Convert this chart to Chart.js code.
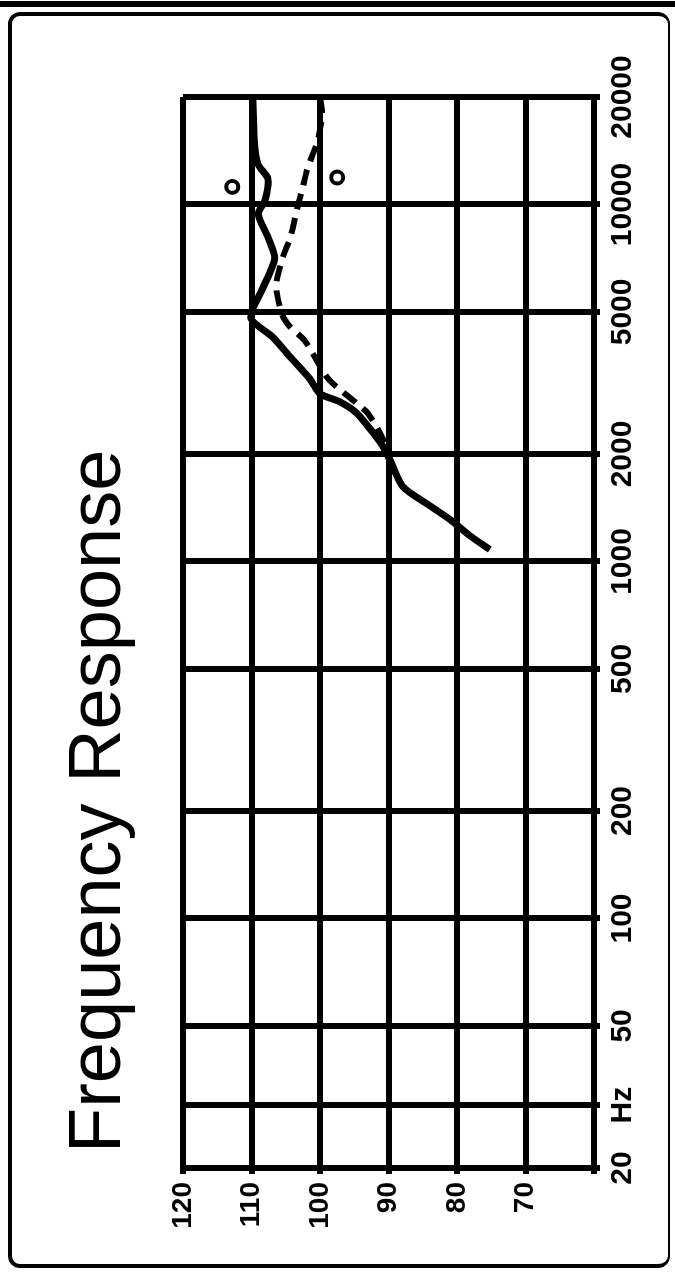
<!DOCTYPE html>
<html>
<head>
<meta charset="utf-8">
<script src="https://cdn.jsdelivr.net/npm/chart.js@4"></script>
<style>
  body { margin: 0; width: 675px; height: 1278px; overflow: hidden; position: relative; background: #fff; }
  #frame { position: absolute; left: 8px; top: 12px; width: 662px; height: 1256px; box-sizing: border-box;
           border: 4px solid #000; border-right-width: 2px; border-radius: 12px; }
  #edge { position: absolute; left: 0; top: 1px; width: 675px; height: 6px; background: #000; }
  #rot { position: absolute; left: 0; top: 0; width: 1278px; height: 675px;
         transform-origin: 0 0; transform: translate(0px, 1278px) rotate(-90deg); }
</style>
</head>
<body>
<div id="edge"></div>
<div id="frame"></div>
<div id="rot"><canvas id="chart" width="1278" height="675"></canvas></div>
<script>
const titleText = "Frequency Response";

const freqTicks = [20, 30, 50, 100, 200, 500, 1000, 2000, 5000, 10000, 20000];
const freqLabels = ["20", "Hz", "50", "100", "200", "500", "1000", "2000", "5000", "10000", "20000"];
const dbTicks = [60, 70, 80, 90, 100, 110, 120];
const dbLabels = ["", "70", "80", "90", "100", "110", "120"];

// solid curve
const solidFreq = [20000, 14300, 12900, 11800, 10300, 9400, 8100, 7100, 6450, 5650, 4800, 4250, 3750,
  3250, 2950, 2800, 2600, 2300, 2100, 1930, 1620, 1430, 1310, 1180, 1080];
const solidDb = [109.8, 109.5, 109.0, 107.6, 108.0, 109.0, 107.6, 106.6, 107.3, 108.7, 110.1, 106.9, 104.4,
  101.5, 100.0, 97.1, 94.6, 92.3, 90.8, 89.8, 87.9, 83.9, 81.0, 78.1, 75.2];

// dashed curve
const dashFreq = [20000, 17900, 15200, 12500, 11200, 10000, 9250, 8000, 7150, 6150, 5650, 4900, 4550,
  4150, 3250, 2800, 2600, 2200, 1800];
const dashDb = [100.0, 99.7, 100.3, 101.9, 102.5, 103.2, 103.6, 104.4, 105.4, 106.3, 106.3, 105.5, 104.4,
  102.2, 98.8, 94.9, 93.0, 90.8, 89.5];

// the two little circle marks
const markFreq = [11200, 11900];
const markDb = [112.8, 97.5];

function toPoints(xs, ys) {
  return xs.map((f, i) => ({ x: f, y: ys[i] }));
}

const titlePlugin = {
  id: "sideTitle",
  afterDraw(chart) {
    const ctx = chart.ctx;
    ctx.save();
    ctx.font = '74px "Liberation Sans", Arial, sans-serif';
    ctx.fillStyle = "#000";
    ctx.textBaseline = "alphabetic";
    ctx.fillText(titleText, 125, 120);
    ctx.restore();
  },
};

new Chart(document.getElementById("chart"), {
  type: "scatter",
  data: {
    datasets: [
      {
        label: "solid",
        data: toPoints(solidFreq, solidDb),
        showLine: true,
        borderColor: "#000",
        borderWidth: 7,
        pointRadius: 0,
        tension: 0.25,
      },
      {
        label: "dashed",
        data: toPoints(dashFreq, dashDb),
        showLine: true,
        borderColor: "#000",
        borderWidth: 6,
        borderDash: [16, 9],
        pointRadius: 0,
        tension: 0.25,
      },
      {
        label: "marks",
        data: toPoints(markFreq, markDb),
        pointStyle: "circle",
        pointRadius: 6,
        pointBackgroundColor: "#fff",
        pointBorderColor: "#000",
        pointBorderWidth: 4,
      },
    ],
  },
  options: {
    responsive: false,
    devicePixelRatio: 1,
    animation: false,
    layout: { padding: { top: 183, right: 97, left: 0, bottom: 0 } },
    plugins: {
      legend: { display: false },
      tooltip: { enabled: false },
    },
    scales: {
      x: {
        type: "logarithmic",
        min: 20,
        max: 20000,
        afterBuildTicks(scale) {
          scale.ticks = freqTicks.map((v) => ({ value: v }));
        },
        afterFit(scale) {
          scale.height = 81;
        },
        ticks: {
          autoSkip: false,
          maxRotation: 0,
          padding: 5,
          color: "#000",
          font: { family: "Liberation Sans", size: 30, weight: "bold" },
          callback: (value, index) => freqLabels[index],
        },
        grid: { color: "#000", lineWidth: 6, tickLength: 6 },
        border: { color: "#000", width: 6 },
      },
      y: {
        type: "linear",
        min: 60,
        max: 120,
        afterBuildTicks(scale) {
          scale.ticks = dbTicks.map((v) => ({ value: v }));
        },
        afterFit(scale) {
          scale.width = 110;
        },
        ticks: {
          padding: 8,
          color: "#000",
          font: { family: "Liberation Sans", size: 28, weight: "bold" },
          callback: (value, index) => dbLabels[index],
        },
        grid: { color: "#000", lineWidth: 6, tickLength: 6 },
        border: { color: "#000", width: 6 },
      },
    },
  },
  plugins: [titlePlugin],
});
</script>
</body>
</html>
